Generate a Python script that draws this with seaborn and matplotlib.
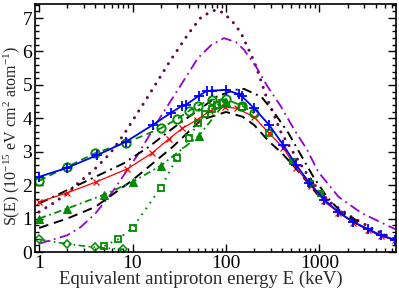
import numpy as np
import pandas as pd
import matplotlib
matplotlib.use("Agg")
import matplotlib.pyplot as plt
import seaborn as sns
from matplotlib.ticker import FixedLocator, LogLocator, MultipleLocator, NullFormatter

# ---------------- data ----------------
maroon_E = [1, 1.4, 2, 2.6, 4, 5.8, 8, 15, 25, 40, 55, 78, 95, 121, 145, 200, 232, 270, 320, 390,
            465, 540, 670, 920, 1280, 2200, 3900, 6500]
maroon_S = [1.2, 1.45, 1.75, 2.05, 2.5, 2.96, 3.5, 4.7, 5.7, 6.55, 7.05, 7.25, 7.15, 6.85, 6.55, 5.7,
            5.2, 4.64, 4.16, 3.56, 3.22, 2.92, 2.5, 1.95, 1.5, 1.05, 0.66, 0.38]

violet_E = [1, 2, 2.8, 4, 6, 11.3, 20, 30, 50, 70, 95, 128, 156, 210, 280, 390, 540, 740, 970,
            1600, 2800, 4600, 6500]
violet_S = [0.25, 0.5, 0.75, 1.15, 1.77, 2.9, 4.05, 4.82, 5.8, 6.2, 6.4, 6.28, 6.05, 5.54, 4.94,
            4.34, 3.65, 3.05, 2.4, 1.65, 1.17, 0.88, 0.68]

blue_E = [1, 2, 4.2, 8.5, 16.4, 25.6, 33.7, 37, 51, 62, 70, 100, 138, 148, 200, 290, 410, 565, 780,
          1130, 1590, 2300, 3300, 4520, 6400]
blue_S = [2.25, 2.52, 2.9, 3.3, 3.8, 4.16, 4.37, 4.4, 4.67, 4.82, 4.83, 4.85, 4.72, 4.66, 4.3, 3.8,
          3.2, 2.6, 2.07, 1.56, 1.2, 0.9, 0.69, 0.5, 0.37]

red_E = [1, 2, 4.1, 8.8, 16, 24.4, 34, 48.6, 67, 97, 131, 200, 290, 410, 565, 820, 1130, 1590, 2300,
         3300, 4520, 6400]
red_S = [1.5, 1.77, 2.1, 2.49, 2.95, 3.38, 3.7, 3.95, 4.22, 4.34, 4.3, 4.04, 3.55, 3.12, 2.5, 1.98,
         1.52, 1.18, 0.88, 0.66, 0.47, 0.36]

bdashdot_E = [1, 2, 4, 8, 15, 30, 54, 80, 122, 156, 240, 330, 465, 590, 860, 1200, 1700, 2800]
bdashdot_S = [1.45, 1.85, 2.25, 2.65, 3.15, 3.8, 4.3, 4.65, 4.85, 4.88, 4.64, 4.16, 3.56, 3.05,
              2.25, 1.65, 1.2, 0.87]

bdash_E = [1, 2, 4, 10, 27, 54, 100, 150, 200, 290, 400, 600, 1000, 1600, 2500]
bdash_S = [0.72, 1.0, 1.35, 2.15, 3.15, 3.95, 4.19, 4.05, 3.8, 3.3, 2.95, 2.4, 1.65, 1.2, 0.9]

circ_E = [1, 2, 4, 8.5, 20, 30, 40, 50, 70, 100, 150, 200]
circ_S = [2.13, 2.55, 2.96, 3.27, 3.7, 3.98, 4.22, 4.38, 4.56, 4.57, 4.37, 4.15]

tri_E = [1, 2, 5, 10, 20, 51, 100]
tri_S = [1.0, 1.3, 1.72, 2.1, 2.58, 3.47, 4.5]

sq_E = [5, 7, 10, 20, 30, 40, 50, 60, 70, 80, 90]
sq_S = [0.18, 0.38, 0.72, 1.92, 2.82, 3.41, 3.86, 4.13, 4.28, 4.4, 4.46]

sqx_E = [150, 290]
sqx_S = [4.34, 3.56]

sqf_E = [510, 800, 1020]
sqf_S = [2.72, 2.07, 1.77]

dia_E = [1, 2, 4, 8]
dia_S = [0.38, 0.24, 0.14, 0.08]

xticks = [1, 10, 100, 1000]
xticklabels = ["1", "10", "100", "1000"]
yticks = [0, 1, 2, 3, 4, 5, 6, 7]

# ---------------- style ----------------
sns.set_style("ticks")
plt.rcParams['font.family'] = ['Liberation Serif', 'DejaVu Serif']
plt.rcParams['mathtext.fontset'] = 'custom'
plt.rcParams['mathtext.rm'] = 'Liberation Serif'
plt.rcParams['mathtext.it'] = 'Liberation Serif:italic'
plt.rcParams['mathtext.default'] = 'regular'

MAROON = "#670748"
VIOLET = "#9400d3"
GREEN = "#008b00"

fig = plt.figure(figsize=(3.99, 2.89), dpi=100)
ax = fig.add_axes([0.0877, 0.128, 0.905, 0.858])


def draw(E, S, color, **kw):
    df = pd.DataFrame({"E": E, "S": S})
    kw.setdefault("linestyle", "-")
    kw.setdefault("markeredgecolor", color)
    sns.lineplot(data=df, x="E", y="S", ax=ax, estimator=None, sort=False, color=color, **kw)


draw(maroon_E, maroon_S, MAROON, linewidth=2.2, linestyle=(0, (0.01, 2.6)),
     dash_capstyle='round')
draw(violet_E, violet_S, VIOLET, linewidth=1.3, linestyle=(0, (6, 2.5, 1, 2.5)))
draw(bdashdot_E, bdashdot_S, "black", linewidth=1.4, linestyle=(0, (5, 2.5, 1, 2.5)))
draw(bdash_E, bdash_S, "black", linewidth=1.4, linestyle=(0, (5, 3)))
draw(red_E, red_S, "red", linewidth=0.9, marker="x", markersize=5, markeredgewidth=0.9)
draw(dia_E, dia_S, GREEN, linewidth=1.2, linestyle=(0, (4, 2, 1, 2, 1, 2)), marker="D",
     markersize=4, markerfacecolor="none", markeredgewidth=1.1)
draw(sq_E, sq_S, GREEN, linewidth=1.5, linestyle=(0, (0.8, 2.6)), marker="s",
     markersize=5, markerfacecolor="none", markeredgewidth=1.3)
draw(tri_E, tri_S, GREEN, linewidth=1.3, linestyle=(0, (4, 2, 1, 2)), marker="^",
     markersize=6, markerfacecolor=GREEN)
draw(circ_E, circ_S, GREEN, linewidth=1.3, linestyle=(0, (4, 2.5)), marker="o",
     markersize=6, markerfacecolor="none", markeredgewidth=1.4)
draw(sqx_E, sqx_S, GREEN, linestyle="none", marker="s", markersize=5,
     markerfacecolor="none", markeredgewidth=1.3)
draw(sqf_E, sqf_S, GREEN, linestyle="none", marker="s", markersize=5,
     markerfacecolor=GREEN)
draw(blue_E, blue_S, "blue", linewidth=1.3, marker="+", markersize=7, markeredgewidth=1.3)

ax.set_xscale("log")
ax.set_xlim(0.905, 6600)
ax.set_ylim(0, 7.42)

ax.xaxis.set_major_locator(FixedLocator(xticks))
ax.set_xticks(xticks)
ax.set_xticklabels(xticklabels)
ax.xaxis.set_minor_locator(LogLocator(base=10, subs=np.arange(2, 10)))
ax.xaxis.set_minor_formatter(NullFormatter())
ax.set_yticks(yticks)
ax.yaxis.set_minor_locator(MultipleLocator(0.2))

ax.tick_params(which="both", direction="in", top=True, right=True, width=1.0,
               labelsize=14, colors="black", pad=2)
ax.tick_params(which="major", length=6)
ax.tick_params(which="minor", length=3)
for sp in ax.spines.values():
    sp.set_linewidth(1.2)
    sp.set_color("black")

ax.set_xlabel("Equivalent antiproton energy E (keV)", fontsize=13.5, labelpad=0)
ax.xaxis.set_label_coords(0.46, -0.075)
ax.set_ylabel(r"S(E) (10$^{-15}$ eV cm$^{2}$ atom$^{-1}$)", fontsize=11.5)
ax.yaxis.set_label_coords(-0.037, 0.47)

fig.savefig("out.png", dpi=100)
